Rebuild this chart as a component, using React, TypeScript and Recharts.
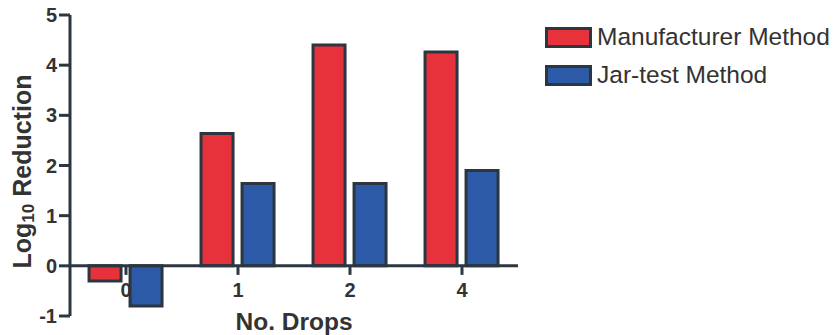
import React from "react";
import { Bar, BarChart, ReferenceLine, XAxis, YAxis } from "recharts";

const drops = ["0", "1", "2", "4"];
const manufacturer = [-0.3, 2.64, 4.4, 4.26];
const jarTest = [-0.8, 1.64, 1.64, 1.9];
const yTicks = [-1, 0, 1, 2, 3, 4, 5];
const seriesNames = ["Manufacturer Method", "Jar-test Method"];

const WIDTH = 834;
const HEIGHT = 335;
const TOP = 15;
const X_AXIS_H = 19;
const Y_MIN = -1;
const Y_MAX = 5;
const INK = "#2b3640";
const TEXT = "#333333";
const RED = "#e8323b";
const BLUE = "#2d5aa6";
const seriesColors = [RED, BLUE];
const FONT = "'Liberation Sans', Arial, sans-serif";

const data = drops.map((d, i) => ({
  drops: d,
  manufacturer: manufacturer[i],
  jarTest: jarTest[i],
}));

// y pixel of the zero line, from the plot area and the y domain
const plotH = HEIGHT - TOP - X_AXIS_H;
const zeroY = TOP + (plotH * Y_MAX) / (Y_MAX - Y_MIN);

function DropTick(props: any) {
  const { x, payload } = props;
  return (
    <g>
      <line x1={x} x2={x} y1={zeroY} y2={zeroY + 9} stroke={INK} strokeWidth={3} />
      <text
        x={x}
        y={zeroY + 31}
        textAnchor="middle"
        fontSize={20}
        fontWeight="bold"
        fill={TEXT}
      >
        {payload.value}
      </text>
    </g>
  );
}

function yLabel(props: any) {
  const vb = props.viewBox || {};
  const cx = 22;
  const cy = (vb.y ?? TOP) + (vb.height ?? plotH) / 2 + 6;
  return (
    <text
      x={cx}
      y={cy}
      transform={`rotate(-90 ${cx} ${cy})`}
      textAnchor="middle"
      dominantBaseline="central"
      fontSize={25}
      fontWeight="bold"
      fill={TEXT}
    >
      <tspan>Log</tspan>
      <tspan fontSize={17} dy={6}>10</tspan>
      <tspan dy={-6}> Reduction</tspan>
    </text>
  );
}

function xLabel(props: any) {
  const vb = props.viewBox || {};
  return (
    <text
      x={vb.x + vb.width / 2}
      y={330}
      textAnchor="middle"
      fontSize={24.5}
      fontWeight="bold"
      fill={TEXT}
    >
      No. Drops
    </text>
  );
}

function LegendBox() {
  return (
    <div
      style={{
        position: "absolute",
        left: 545,
        top: 18,
        fontFamily: FONT,
      }}
    >
      {seriesNames.map((name, i) => (
        <div
          key={name}
          style={{ display: "flex", alignItems: "center", height: 38 }}
        >
          <div
            style={{
              width: 41,
              height: 15,
              background: seriesColors[i],
              border: `3px solid ${INK}`,
              marginRight: 5,
            }}
          />
          <span style={{ fontSize: 24.5, color: TEXT }}>{name}</span>
        </div>
      ))}
    </div>
  );
}

export default function App() {
  return (
    <div
      style={{
        position: "absolute",
        left: 0,
        top: 0,
        width: WIDTH,
        height: HEIGHT,
        background: "#fff",
      }}
    >
      <BarChart
        width={WIDTH}
        height={HEIGHT}
        data={data}
        margin={{ top: TOP, right: 316, left: 10, bottom: 0 }}
        barCategoryGap="17%"
        barGap={9}
        style={{ fontFamily: FONT }}
      >
        <XAxis
          dataKey="drops"
          height={X_AXIS_H}
          axisLine={false}
          tickLine={false}
          tick={<DropTick />}
          interval={0}
          label={xLabel}
        />
        <YAxis
          width={60}
          domain={[Y_MIN, Y_MAX]}
          ticks={yTicks}
          interval={0}
          axisLine={{ stroke: INK, strokeWidth: 3 }}
          tickLine={{ stroke: INK, strokeWidth: 3 }}
          tickSize={11}
          tickMargin={2}
          tick={{ fontSize: 20, fontWeight: "bold", fill: TEXT }}
          label={yLabel}
        />
        <Bar
          dataKey="manufacturer"
          name={seriesNames[0]}
          fill={RED}
          stroke={INK}
          strokeWidth={3}
          isAnimationActive={false}
        />
        <Bar
          dataKey="jarTest"
          name={seriesNames[1]}
          fill={BLUE}
          stroke={INK}
          strokeWidth={3}
          isAnimationActive={false}
        />
        <ReferenceLine y={0} stroke={INK} strokeWidth={3} />
      </BarChart>
      <LegendBox />
    </div>
  );
}
